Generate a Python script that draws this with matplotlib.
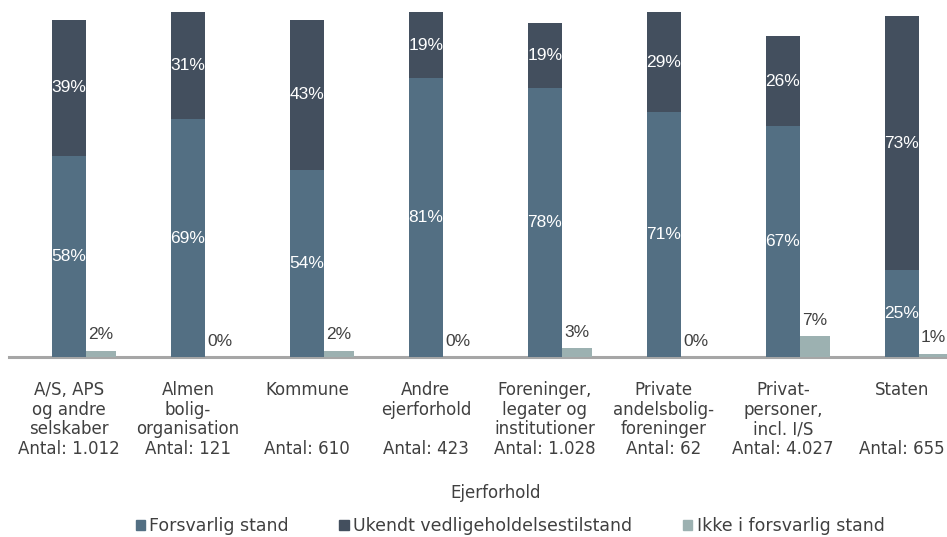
import matplotlib

matplotlib.use("Agg")
import matplotlib.pyplot as plt
import numpy as np
from matplotlib.patches import Patch

CATEGORIES = [
    "A/S, APS\nog andre\nselskaber\nAntal: 1.012",
    "Almen\nbolig-\norganisation\nAntal: 121",
    "Kommune\n\n\nAntal: 610",
    "Andre\nejerforhold\n\nAntal: 423",
    "Foreninger,\nlegater og\ninstitutioner\nAntal: 1.028",
    "Private\nandelsbolig-\nforeninger\nAntal: 62",
    "Privat-\npersoner,\nincl. I/S\nAntal: 4.027",
    "Staten\n\n\nAntal: 655",
]
FORSVARLIG = [58.4, 69.0, 54.4, 81.0, 78.0, 71.0, 67.0, 25.4]
UKENDT = [39.4, 31.0, 43.4, 19.0, 19.0, 29.0, 26.0, 73.4]
IKKE = [2.2, 0.0, 2.2, 0.0, 3.0, 0.0, 7.0, 1.2]
SERIES_NAMES = ["Forsvarlig stand", "Ukendt vedligeholdelsestilstand", "Ikke i forsvarlig stand"]

COL_FORSV = "#536F83"
COL_UKENDT = "#434F5E"
COL_IKKE = "#9CB1B1"
TEXT_COL = "#404040"
LABEL_FONT = ["Liberation Sans", "DejaVu Sans"]

plt.rcParams["font.family"] = ["DejaVu Sans"]
plt.rcParams["font.size"] = 12

fig = plt.figure(figsize=(9.47, 5.37), dpi=100)
ax = fig.add_axes([0.01, 0.3346, 1.005, 0.6425])
ax2 = ax.twinx()

x = np.arange(len(CATEGORIES))
w_main = 0.286
w_ikke = 0.252
off = w_main / 2 + w_ikke / 2

forsv = np.array(FORSVARLIG) / 100
ukendt = np.array(UKENDT) / 100
ikke = np.array(IKKE) / 100

ax.bar(x, forsv, width=w_main, color=COL_FORSV, zorder=3)
ax.bar(x, ukendt, bottom=forsv, width=w_main, color=COL_UKENDT, zorder=3)
ax2.bar(x + off, ikke, width=w_ikke, color=COL_IKKE, zorder=3)

for xi, f, u in zip(x, forsv, ukendt):
    ax.text(xi, f / 2, f"{f * 100:.0f}%", ha="center", va="center", color="white",
            fontsize=12.5, family=LABEL_FONT, zorder=4)
    ax.text(xi, f + u / 2, f"{u * 100:.0f}%", ha="center", va="center", color="white",
            fontsize=12.5, family=LABEL_FONT, zorder=4)

for xi, v in zip(x + off, ikke):
    ax2.annotate(f"{v * 100:.0f}%", (xi, v), xytext=(0, 6), textcoords="offset points",
                 ha="center", va="bottom", color=TEXT_COL, fontsize=12.5, family=LABEL_FONT)

ax.set_xlim(-0.5, 7.5)
ax.set_ylim(0, 1.0)
ax2.set_ylim(0, 1.15)

ax.set_xticks(x)
ax.set_xticklabels(CATEGORIES, color=TEXT_COL, fontsize=12, linespacing=1.12)
ax.tick_params(axis="x", length=0, pad=17)
ax.set_yticks([])
ax2.set_yticks([])

for a in (ax, ax2):
    for side in ("top", "right", "left"):
        a.spines[side].set_visible(False)
    a.patch.set_visible(False)
ax2.spines["bottom"].set_visible(False)
ax.spines["bottom"].set_color("#A6A6A6")
ax.spines["bottom"].set_linewidth(2.2)

fig.text(496 / 947, 1 - 493 / 537, "Ejerforhold", ha="center", va="center", color=TEXT_COL, fontsize=12)

handles = [Patch(color=COL_FORSV), Patch(color=COL_UKENDT), Patch(color=COL_IKKE)]
fig.legend(handles, SERIES_NAMES, loc="center", bbox_to_anchor=(510 / 947, 1 - 526 / 537), ncol=3,
           frameon=False, handlelength=0.55, handleheight=0.55, handletextpad=0.25, columnspacing=2.9,
           labelcolor=TEXT_COL, fontsize=12.5)

fig.savefig("out.png", dpi=100)
